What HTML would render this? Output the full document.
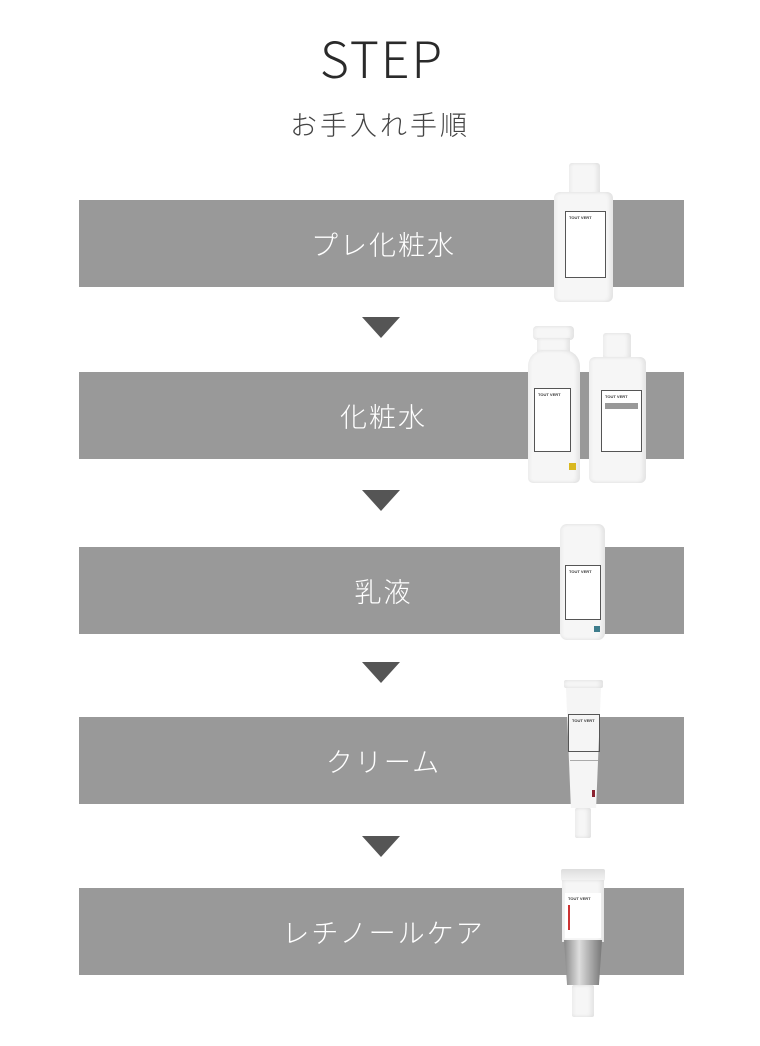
<!DOCTYPE html>
<html><head><meta charset="utf-8"><style>
body{margin:0;background:#fff;width:760px;height:1046px;position:relative;overflow:hidden;font-family:"Liberation Sans","Noto Sans CJK JP",sans-serif}
.a{position:absolute}
.t{left:0;width:760px;text-align:center;color:#333}
.bar{position:absolute;left:79px;width:605px;height:87px;background:#999;color:#fff;font-size:27px;line-height:87px;text-align:center;letter-spacing:2px;font-family:"Noto Sans CJK JP",sans-serif;font-weight:300}
.bar span{position:relative;left:2px}
.tri{position:absolute;left:362px;width:0;height:0;border-left:19px solid transparent;border-right:19px solid transparent;border-top:21px solid #555}
.w{background:#f6f6f6;box-shadow:inset -3px 0 4px rgba(0,0,0,.08),inset 2px 0 3px rgba(0,0,0,.04)}
.lab{position:absolute;border:1px solid #555;background:#fff;font-size:4px;color:#333;padding:3px;box-sizing:border-box;font-weight:bold}
</style></head><body>
<div class="a t" style="top:27px;font-size:50px;font-family:'Noto Sans CJK JP',sans-serif;font-weight:300;letter-spacing:2px;color:#2a2a2a;line-height:60px;padding-left:2px">STEP</div>
<div class="a t" style="top:106px;font-size:27px;color:#444;font-family:'Noto Sans CJK JP',sans-serif;font-weight:300;letter-spacing:3px;line-height:36px">お手入れ手順</div>

<div class="bar" style="top:200px"><span>プレ化粧水</span></div>
<div class="tri" style="top:317px"></div>
<div class="bar" style="top:372px"><span>化粧水</span></div>
<div class="tri" style="top:490px"></div>
<div class="bar" style="top:547px"><span>乳液</span></div>
<div class="tri" style="top:662px"></div>
<div class="bar" style="top:717px"><span>クリーム</span></div>
<div class="tri" style="top:836px"></div>
<div class="bar" style="top:888px"><span>レチノールケア</span></div>

<div class="a w" style="left:569px;top:163px;width:31px;height:32px;border-radius:3px"></div>
<div class="a w" style="left:554px;top:192px;width:59px;height:110px;border-radius:6px"></div>
<div class="lab" style="left:565px;top:211px;width:41px;height:67px">TOUT VERT</div>

<div class="a w" style="left:533px;top:326px;width:41px;height:14px;border-radius:4px"></div>
<div class="a w" style="left:537px;top:338px;width:33px;height:14px"></div>
<div class="a w" style="left:528px;top:350px;width:52px;height:133px;border-radius:16px 16px 5px 5px"></div>
<div class="lab" style="left:534px;top:388px;width:37px;height:64px">TOUT VERT</div>
<div class="a" style="left:569px;top:463px;width:7px;height:7px;background:#d9b820"></div>

<div class="a w" style="left:603px;top:333px;width:28px;height:26px;border-radius:3px"></div>
<div class="a w" style="left:589px;top:357px;width:57px;height:126px;border-radius:6px"></div>
<div class="lab" style="left:601px;top:390px;width:41px;height:62px">TOUT VERT<div style="background:#999;height:6px;margin-top:4px"></div></div>

<div class="a w" style="left:560px;top:524px;width:45px;height:116px;border-radius:7px"></div>
<div class="lab" style="left:565px;top:565px;width:36px;height:55px">TOUT VERT</div>
<div class="a" style="left:594px;top:626px;width:6px;height:6px;background:#3e7d8c"></div>

<div class="a w" style="left:564px;top:680px;width:39px;height:8px;border-radius:2px"></div>
<div class="a" style="left:566px;top:688px;width:35px;height:120px;background:#f5f5f5;clip-path:polygon(0 0,100% 0,86% 100%,14% 100%)"></div>
<div class="lab" style="left:568px;top:714px;width:32px;height:38px;background:transparent">TOUT VERT</div>
<div class="a" style="left:570px;top:760px;width:28px;height:1px;background:#aaa"></div>
<div class="a" style="left:592px;top:790px;width:3px;height:7px;background:#8b2230"></div>
<div class="a w" style="left:575px;top:808px;width:16px;height:30px;border-radius:2px"></div>

<div class="a" style="left:561px;top:869px;width:44px;height:12px;background:linear-gradient(#ddd,#f4f4f4);border-radius:2px"></div>
<div class="a w" style="left:562px;top:880px;width:42px;height:62px"></div>
<div class="lab" style="left:565px;top:893px;width:36px;height:45px;border:none">TOUT VERT</div>
<div class="a" style="left:568px;top:905px;width:2px;height:25px;background:#c33"></div>
<div class="a" style="left:564px;top:940px;width:38px;height:45px;background:linear-gradient(90deg,#888,#ddd 40%,#aaa 70%,#777);clip-path:polygon(0 0,100% 0,92% 100%,8% 100%)"></div>
<div class="a w" style="left:572px;top:985px;width:22px;height:32px;border-radius:2px"></div>
</body></html>
